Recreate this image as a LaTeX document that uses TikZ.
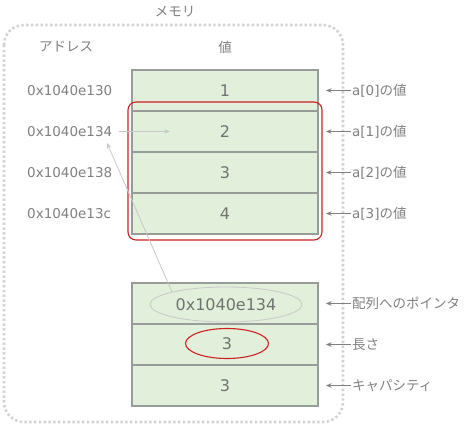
\documentclass[tikz,border=0pt]{standalone}
\usepackage{fontspec}
\setmainfont{DejaVu Sans}
\newfontfamily\jp{Noto Sans CJK JP}
\usetikzlibrary{shapes.geometric,arrows.meta,calc}

\definecolor{txtgray}{RGB}{128,128,128}
\definecolor{numgray}{RGB}{112,116,112}
\definecolor{cellfill}{RGB}{226,239,218}
\definecolor{cellline}{RGB}{152,156,152}
\definecolor{memred}{RGB}{204,34,34}
\definecolor{dotgray}{RGB}{210,210,210}
\definecolor{faintgray}{RGB}{200,200,200}
\definecolor{arrgray}{RGB}{128,128,128}

\tikzset{
  cell/.style={fill=cellfill, minimum width=186pt, minimum height=41pt, inner sep=0pt, outer sep=0pt, text=numgray, font=\fontsize{16}{18}\selectfont},
  cellborder/.style={draw=cellline, line width=2pt},
  addr/.style={anchor=west, inner sep=1pt, text=txtgray, font=\fontsize{13.5}{16}\selectfont},
  lbl/.style={anchor=west, inner sep=1pt, text=txtgray, font=\fontsize{13.5}{16}\selectfont},
  head/.style={inner sep=1pt, text=txtgray, font=\fontsize{13.5}{16}\selectfont\jp},
  lblarrow/.style={draw=arrgray, line width=0.9pt, -{Stealth[length=5.5pt,width=4.5pt]}},
  faintarrow/.style={draw=faintgray, line width=0.8pt, -{Stealth[length=5.5pt,width=4.5pt]}},
}

\begin{document}
\begin{tikzpicture}[x=1pt,y=1pt,yscale=-1,xscale=1]
        \useasboundingbox (0,0) rectangle (473,430);

        %Shape: Rounded Rect [memory]
        \draw [dotgray, line width=2.6pt, dash pattern=on 2.4pt off 2.4pt, rounded corners=20pt] (4,25) rectangle (343,422);
        % Text Node
        \node [head] (mem) at (175,12) {メモリ};
        % Text Node
        \node [head] (addrhead) at (66,47) {アドレス};
        % Text Node
        \node [head] (valhead) at (225,47) {値};

        %Shape: Rectangle [array cells]
        \node [cell] (c0) at (225,90.5) {1};
        \node [cell] (c1) at (225,131.5) {2};
        \node [cell] (c2) at (225,172.5) {3};
        \node [cell] (c3) at (225,213.5) {4};

        %Shape: Rectangle [slice header]
        \node [cell] (h0) at (225,303.5) {};
        \node [cell] (h1) at (225,344.5) {};
        \node [cell] (h2) at (225,385.5) {3};

        %Shape: Rectangle [cell borders]
        \foreach \c in {c0,c1,c2,c3,h0,h1,h2}
          \draw [cellborder] (\c.north west) rectangle (\c.south east);

        %Rounded Rect [slice range]
        \draw [memred, line width=1.1pt, rounded corners=8pt] (128,102) rectangle (322,240);

        % Text Node
        \node [addr] (addr0) at (26,90.5) {0x1040e130};
        \node [addr] (addr1) at (26,131.5) {0x1040e134};
        \node [addr] (addr2) at (26,172.5) {0x1040e138};
        \node [addr] (addr3) at (26,213.5) {0x1040e13c};

        %Straight Lines [address to cell]
        \draw [faintarrow] ($(addr1.east)+(6,0)$) -- ($(c1.west)+(38,0)$);

        %Shape: Ellipse [pointer]
        \node [ellipse, draw=faintgray, line width=0.8pt, minimum width=152pt, minimum height=35pt, inner sep=0pt, text=numgray, font=\fontsize{16}{18}\selectfont] (ptr) at (226,304.5) {0x1040e134};
        %Shape: Ellipse [length]
        \node [ellipse, draw=memred, line width=1.1pt, minimum width=83pt, minimum height=30pt, inner sep=0pt, text=numgray, font=\fontsize{16}{18}\selectfont] (len) at (227,343.5) {3};

        %Straight Lines [pointer to address]
        \coordinate (ptrend) at (107,143);
        \draw [faintarrow] (ptr.north west) -- (ptrend);

        % Text Node
        \node [lbl] (l0) at (351,90.5) {a[0]{\jp の値}};
        \node [lbl] (l1) at (351,131.5) {a[1]{\jp の値}};
        \node [lbl] (l2) at (351,172.5) {a[2]{\jp の値}};
        \node [lbl] (l3) at (351,213.5) {a[3]{\jp の値}};
        \node [lbl] (l4) at (351,303.5) {\jp 配列へのポインタ};
        \node [lbl] (l5) at (351,344.5) {\jp 長さ};
        \node [lbl] (l6) at (351,385.5) {\jp キャパシティ};

        %Straight Lines [labels to cells]
        \draw [lblarrow] (l0.west) -- ($(c0.east)+(8,0)$);
        \draw [lblarrow] (l1.west) -- ($(c1.east)+(8,0)$);
        \draw [lblarrow] (l2.west) -- ($(c2.east)+(8,0)$);
        \draw [lblarrow] (l3.west) -- ($(c3.east)+(8,0)$);
        \draw [lblarrow] (l4.west) -- ($(h0.east)+(8,0)$);
        \draw [lblarrow] (l5.west) -- ($(h1.east)+(8,0)$);
        \draw [lblarrow] (l6.west) -- ($(h2.east)+(8,0)$);
\end{tikzpicture}
\end{document}
